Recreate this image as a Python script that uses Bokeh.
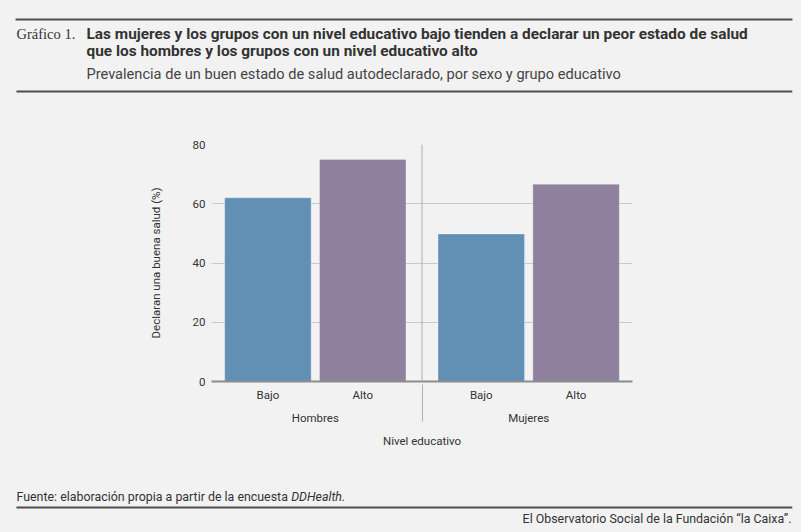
from bokeh.plotting import figure
from bokeh.models import FactorRange, Range1d, Span, FixedTicker, ColumnDataSource, Spacer
from bokeh.layouts import column, row
from bokeh.embed import file_html
from bokeh.resources import INLINE
from bokeh.core.properties import value

# ---------------- data ----------------
sexes = ["Hombres", "Mujeres"]
levels = ["Bajo", "Alto"]
hombres_vals = [62.0, 74.9]
mujeres_vals = [49.8, 66.6]
level_colors = ["#6290b5", "#8f819d"]
y_ticks = [0, 20, 40, 60, 80]

chart_tag = "Gráfico 1."
title_lines = [
    "Las mujeres y los grupos con un nivel educativo bajo tienden a declarar un peor estado de salud",
    "que los hombres y los grupos con un nivel educativo alto",
]
subtitle = "Prevalencia de un buen estado de salud autodeclarado, por sexo y grupo educativo"
source_text = "Fuente: elaboración propia a partir de la encuesta"
source_italic = "DDHealth."
credit = "El Observatorio Social de la Fundación “la Caixa”."
y_label = "Declaran una buena salud (%)"
x_label = "Nivel educativo"

# ---------------- style / layout ----------------
W, H = 801, 532
TOP_H, HEAD_H, CHART_H = 26, 74, 370
FOOT_H = H - TOP_H - HEAD_H - CHART_H
FL, FT, FW, FH = 211, 144, 421, 237     # chart frame in page pixels
SPACER = 141
X0, X1 = 15, 792                         # horizontal extent of the strips' frames
BG = "#f2f2f2"
TXT = "#333333"
RULE = "#4d4d4d"
SANS = "Roboto"
CHART_FS = "11.5px"


def strip(y0, h, **kw):
    opts = dict(min_border_left=X0, min_border_right=W - X1, min_border_top=0,
                min_border_bottom=0, background_fill_color=BG)
    opts.update(kw)
    f = figure(width=W, height=h, x_range=Range1d(X0, X1), y_range=Range1d(y0 + h, y0),
               title=None, output_backend="svg", toolbar_location=None,
               x_axis_location=None, y_axis_location=None,
               border_fill_color=BG, outline_line_color=None, **opts)
    f.xgrid.visible = False
    f.ygrid.visible = False
    return f


def txt(f, x, y, text, size, shift, font=SANS, style="normal", color=TXT, align="left"):
    f.text(x=[x], y=[y - shift], text=[text], text_font=value(font), text_font_size=size,
           text_font_style=style, text_color=color, text_align=align,
           text_baseline="alphabetic")


def rule(f, y, x0=16, x1=X1):
    f.quad(left=[x0], right=[x1], top=[y - 1], bottom=[y + 1],
           fill_color=RULE, line_color=None)


# ---------------- top rule: a 2px-high frame filled with the rule colour ----------------
top = strip(0, TOP_H, min_border_top=18, min_border_bottom=TOP_H - 20,
            background_fill_color=RULE)

# ---------------- header ----------------
head = strip(TOP_H, HEAD_H)
rule(head, 91)
txt(head, 16, 39, chart_tag, "14.5px", 6, font="Liberation Serif")
txt(head, 86, 39, title_lines[0], "15.4px", 6, style="bold")
txt(head, 86, 56, title_lines[1], "15.4px", 6, style="bold")
txt(head, 86, 78, subtitle, "14.6px", 5, color="#444444")

# ---------------- chart ----------------
factors = [(s, l) for s in sexes for l in levels]
vals = hombres_vals + mujeres_vals
colors = level_colors * len(sexes)
group_pad = 0.25
chart_top = TOP_H + HEAD_H

x_range = FactorRange(*factors, group_padding=group_pad, range_padding=0.095,
                      range_padding_units="absolute")
c = figure(frame_width=FW, frame_height=FH, x_range=x_range, y_range=Range1d(0, 80),
           output_backend="svg", toolbar_location=None,
           min_border_left=FL - SPACER, min_border_right=W - FL - FW,
           min_border_top=FT - chart_top, min_border_bottom=CHART_H - (FT - chart_top) - FH,
           background_fill_color=BG, border_fill_color=BG, outline_line_color=None)

src = ColumnDataSource(dict(x=factors, top=vals, color=colors))
c.vbar(x="x", top="top", width=0.912, source=src, fill_color="color",
       line_color="white", line_alpha=0.3, line_width=1)

c.add_layout(Span(location=len(levels) + group_pad / 2, dimension="height",
                  line_color="#b0b0b0", line_width=1))

c.xgrid.visible = False
c.ygrid.ticker = FixedTicker(ticks=y_ticks)
c.ygrid.grid_line_color = "#c8c8c8"
c.ygrid.grid_line_width = 1

c.yaxis.ticker = FixedTicker(ticks=y_ticks)
c.yaxis.axis_line_color = None
c.yaxis.major_tick_line_color = None
c.yaxis.minor_tick_line_color = None
c.yaxis.major_tick_out = 0
c.yaxis.major_label_standoff = 6
c.yaxis.major_label_text_font = SANS
c.yaxis.major_label_text_font_size = CHART_FS
c.yaxis.major_label_text_color = TXT
c.yaxis.axis_label = y_label
c.yaxis.axis_label_text_font = SANS
c.yaxis.axis_label_text_font_size = CHART_FS
c.yaxis.axis_label_text_font_style = "normal"
c.yaxis.axis_label_text_color = TXT
c.yaxis.axis_label_standoff = 27

c.xaxis.axis_line_color = "#8c8c8c"
c.xaxis.axis_line_width = 2
c.xaxis.major_tick_line_color = None
c.xaxis.major_tick_out = 0
c.xaxis.major_label_standoff = 6
c.xaxis.major_label_text_font = SANS
c.xaxis.major_label_text_font_size = CHART_FS
c.xaxis.major_label_text_color = TXT
c.xaxis.group_text_font = SANS
c.xaxis.group_text_font_size = CHART_FS
c.xaxis.group_text_font_style = "normal"
c.xaxis.group_text_color = TXT
c.xaxis.separator_line_color = "#b0b0b0"
c.xaxis.separator_line_width = 1
c.xaxis.axis_label = x_label
c.xaxis.axis_label_text_font = SANS
c.xaxis.axis_label_text_font_size = CHART_FS
c.xaxis.axis_label_text_font_style = "normal"
c.xaxis.axis_label_text_color = TXT
c.xaxis.axis_label_standoff = 6

# ---------------- footer ----------------
foot = strip(chart_top + CHART_H, FOOT_H)
txt(foot, 16, 500, source_text, "12.4px", 4)
txt(foot, 290.7, 500, source_italic, "12.4px", 4, style="italic")
rule(foot, 507)
txt(foot, 791, 522, credit, "12.4px", 4, align="right")

middle = row(Spacer(width=SPACER, height=CHART_H), c, spacing=0)
layout = column(top, head, middle, foot, spacing=0, styles={"background-color": BG})

open("out.html", "w").write(file_html(layout, INLINE))
